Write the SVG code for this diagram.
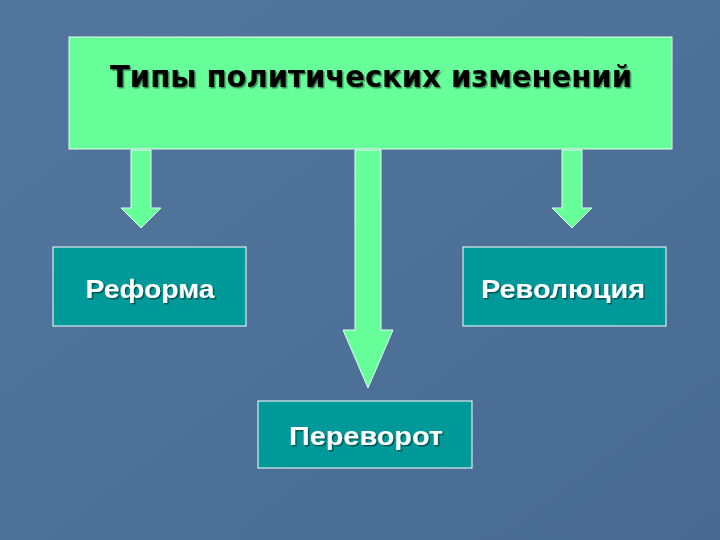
<svg xmlns="http://www.w3.org/2000/svg" width="720" height="540" viewBox="0 0 720 540">
  <defs>
    <linearGradient id="bg" x1="0" y1="0" x2="1" y2="1">
      <stop offset="0" stop-color="#52769e"/>
      <stop offset="0.5" stop-color="#4d7199"/>
      <stop offset="1" stop-color="#486a92"/>
    </linearGradient>
    <filter id="sh" x="-5%" y="-20%" width="110%" height="140%">
      <feDropShadow dx="1.5" dy="1.5" stdDeviation="0.5" flood-color="#000" flood-opacity="0.45"/>
    </filter>
  </defs>
  <style>
    .green { fill: #66ff99; stroke: #e8fff0; stroke-width: 1; }
    .teal { fill: #009999; stroke: #ffffff; stroke-width: 1; }
    .title { font-family: "DejaVu Sans Condensed", "DejaVu Sans", Verdana, sans-serif; font-stretch: condensed; font-weight: bold; font-size: 30px; fill: #000; }
    .label { font-family: "Liberation Sans", Arial, sans-serif; font-weight: bold; font-size: 26px; fill: #ffffff; }
  </style>
  <rect width="720" height="540" fill="url(#bg)"/>
  <g id="connectors">
    <polygon class="green" points="131,150 151,150 151,208 161,208 141,228 121,208 131,208"/>
    <polygon class="green" points="355,150 381,150 381,330 393,330 368,388 343,330 355,330"/>
    <polygon class="green" points="562,150 582,150 582,208 592,208 572,228 552,208 562,208"/>
  </g>
  <g id="node-title">
    <rect class="green" x="69" y="37" width="603" height="112"/>
    <text class="title" x="371" y="87" text-anchor="middle" textLength="522" lengthAdjust="spacingAndGlyphs" filter="url(#sh)">Типы политических изменений</text>
  </g>
  <g id="node-reforma">
    <rect class="teal" x="53" y="247" width="193" height="79"/>
    <text class="label" x="150" y="298" text-anchor="middle" textLength="129" lengthAdjust="spacingAndGlyphs" filter="url(#sh)">Реформа</text>
  </g>
  <g id="node-revolution">
    <rect class="teal" x="463" y="247" width="203" height="79"/>
    <text class="label" x="563" y="298" text-anchor="middle" textLength="164" lengthAdjust="spacingAndGlyphs" filter="url(#sh)">Революция</text>
  </g>
  <g id="node-perevorot">
    <rect class="teal" x="258" y="401" width="214" height="67"/>
    <text class="label" x="366" y="445" text-anchor="middle" textLength="154" lengthAdjust="spacingAndGlyphs" filter="url(#sh)">Переворот</text>
  </g>
</svg>
